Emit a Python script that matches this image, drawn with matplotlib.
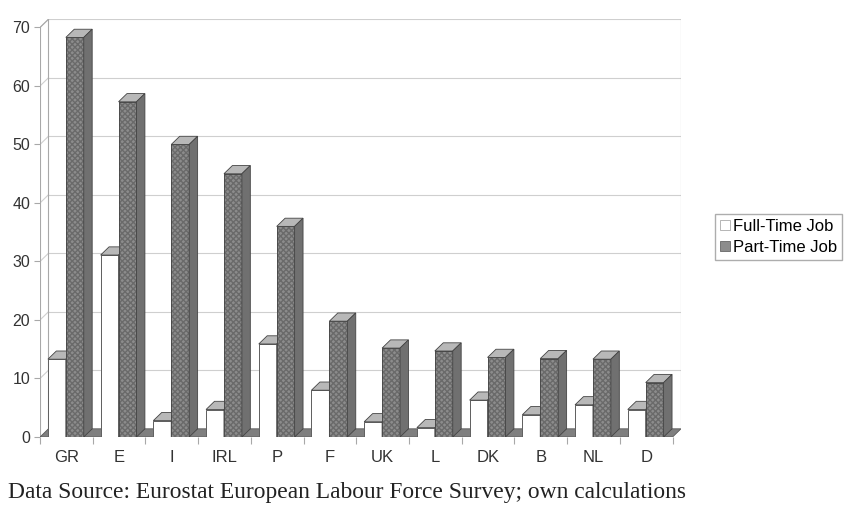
import numpy as np
import matplotlib
matplotlib.use("Agg")
import matplotlib.pyplot as plt
from matplotlib.patches import Polygon, Patch

plt.rcParams['font.family'] = ['Liberation Sans', 'DejaVu Sans']

countries = ['GR', 'E', 'I', 'IRL', 'P', 'F', 'UK', 'L', 'DK', 'B', 'NL', 'D']
full_time = [13.3, 31.1, 2.8, 4.7, 15.9, 8.0, 2.6, 1.6, 6.3, 3.8, 5.5, 4.7]
part_time = [68.3, 57.3, 50.0, 45.0, 36.0, 19.8, 15.2, 14.7, 13.6, 13.4, 13.3, 9.3]
yticks = [0, 10, 20, 30, 40, 50, 60, 70]

# pseudo-3d depth offsets (data units)
dx, dy = 0.16, 1.4
bw = 0.34
n = len(countries)

fig = plt.figure(figsize=(8.51, 5.14), dpi=100)
ax = fig.add_axes([40/851, 77/514, 641/851, 418.3/514])
ax.set_xlim(-0.5, n - 0.5 + dx)
ax.set_ylim(0, 71.5)
for s in ax.spines.values():
    s.set_visible(False)

wall = '#a8a8a8'
grid = '#cfcfcf'
top = yticks[-1]

# back wall gridlines and left wall
for v in yticks[1:]:
    ax.plot([-0.5 + dx, n - 0.5 + dx], [v + dy, v + dy], color=grid, lw=0.8, zorder=1)
    ax.plot([-0.5, -0.5 + dx], [v, v + dy], color=grid, lw=0.8, zorder=1)
ax.plot([-0.5, -0.5], [0, top], color=wall, lw=0.8, zorder=1)
ax.plot([-0.5 + dx, -0.5 + dx], [dy, top + dy], color=wall, lw=0.8, zorder=1)
ax.plot([n - 0.5 + dx, n - 0.5 + dx], [dy, top + dy], color=wall, lw=0.8, zorder=1)
ax.plot([-0.5, -0.5 + dx], [top, top + dy], color=wall, lw=0.8, zorder=1)

# floor
ax.add_patch(Polygon([(-0.5, 0), (n - 0.5, 0), (n - 0.5 + dx, dy), (-0.5 + dx, dy)],
                     closed=True, facecolor='#7f7f7f', edgecolor='#5a5a5a', lw=0.6, zorder=2))


def bar3d(x0, h, front, side, topc, hatch, z):
    ax.bar(x0, h, width=bw, align='edge', color=front,
           edgecolor='#6a6a6a' if hatch else front, hatch=hatch, lw=0, zorder=z)
    ax.bar(x0, h, width=bw, align='edge', fill=False, edgecolor='#444444', lw=0.6, zorder=z)
    x1 = x0 + bw
    ax.add_patch(Polygon([(x0, h), (x1, h), (x1 + dx, h + dy), (x0 + dx, h + dy)],
                         closed=True, facecolor=topc, edgecolor='#444444', lw=0.6, zorder=z))
    ax.add_patch(Polygon([(x1, 0), (x1 + dx, dy), (x1 + dx, h + dy), (x1, h)],
                         closed=True, facecolor=side, edgecolor='#444444', lw=0.6, zorder=z))


z = 3
for i in range(n):
    x0 = i - 0.35
    bar3d(x0, full_time[i], '#ffffff', '#e8e8e8', '#b8b8b8', None, z)
    z += 1
    bar3d(x0 + bw, part_time[i], '#8c8c8c', '#707070', '#b8b8b8', 'xxxxxx', z)
    z += 1

ax.set_yticks(yticks)
ax.tick_params(axis='y', length=4, width=0.8, color=wall, pad=3, labelsize=11.5,
               labelcolor='#333333')
ax.set_xticks(range(n))
ax.set_xticklabels(countries)
ax.set_xticks(np.arange(-0.5, n, 1.0), minor=True)
ax.tick_params(axis='x', which='major', length=0, pad=9, labelsize=12, labelcolor='#333333')
ax.tick_params(axis='x', which='minor', length=5, width=0.8, color=wall)

handles = [Patch(facecolor='white', edgecolor='#aaaaaa', lw=0.6, label='Full-Time Job'),
           Patch(facecolor='#8c8c8c', edgecolor='#666666', lw=0.6, label='Part-Time Job')]
fig.legend(handles=handles, loc='upper left', bbox_to_anchor=(715/851, 1 - 214/514),
           fontsize=12, frameon=True, fancybox=False, edgecolor='#999999',
           handlelength=0.6, handleheight=0.6, handletextpad=0.2,
           borderpad=0.3, labelspacing=0.35, borderaxespad=0)

fig.text(8/851, 1 - 498/514, 'Data Source: Eurostat European Labour Force Survey; own calculations',
         family='Liberation Serif', fontsize=16.9, va='baseline', ha='left', color='#222222')

fig.savefig('out.png', dpi=100)
